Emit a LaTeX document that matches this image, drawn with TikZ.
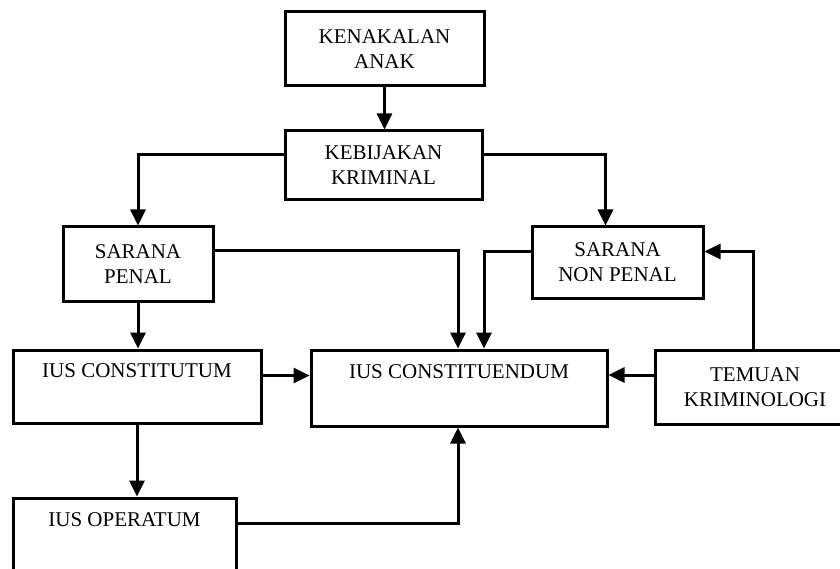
\documentclass[tikz,border=0pt]{standalone}
\usepackage{fontspec}
\setmainfont{Liberation Serif}
\usetikzlibrary{positioning, arrows.meta}

\tikzset{
	kotak/.style={draw, line width=3pt, inner sep=0pt, align=center,
		font=\fontsize{21}{25}\selectfont},
	panah/.style={line width=3pt, -{Triangle[length=16pt,width=15pt]}}
}

\begin{document}
\begin{tikzpicture}[x=1pt, y=-1pt]
					\useasboundingbox[fill=white] (0,0) rectangle (840,569);
					\node[kotak, minimum width=199pt, minimum height=74pt] (kenakalan) at (384.5,49) {KENAKALAN\\ANAK};
					\node[kotak, minimum width=197pt, minimum height=69pt] (kebijakan) at (383.5,165.5) {KEBIJAKAN\\KRIMINAL};
					\node[kotak, minimum width=150pt, minimum height=74pt] (penal) at (138,264) {SARANA\\PENAL};
					\node[kotak, minimum width=171pt, minimum height=71pt] (nonpenal) at (617.5,262.5) {SARANA\\NON PENAL};
					\node[kotak, minimum width=248pt, minimum height=73pt] (constitutum) at (137,386.5) {IUS CONSTITUTUM\\\strut};
					\node[kotak, minimum width=296pt, minimum height=76pt] (constituendum) at (459,388) {IUS CONSTITUENDUM\\\strut};
					\node[kotak, minimum width=200pt, minimum height=74pt] (temuan) at (755,387) {TEMUAN\\KRIMINOLOGI};
					\node[kotak, minimum width=223pt, minimum height=75pt] (operatum) at (124.5,535.5) {IUS OPERATUM\\\strut};

					\draw[panah] (kenakalan.south) -- (kenakalan.south |- kebijakan.north);
					\draw[panah] ([yshift=11pt]kebijakan.west) -| (penal.north);
					\draw[panah] ([yshift=11pt]kebijakan.east) -| ([xshift=-12pt]nonpenal.north);
					\draw[panah] ([yshift=13pt]penal.east) -| ([xshift=-1pt]constituendum.north);
					\draw[panah] ([yshift=11pt]nonpenal.west) -| ([xshift=25pt]constituendum.north);
					\draw[panah] ([xshift=-2pt]temuan.north) |- ([yshift=11pt]nonpenal.east);
					\draw[panah] (penal.south) -- (penal.south |- constitutum.north);
					\draw[panah] ([yshift=11pt]constitutum.east) -- ([yshift=11pt]constitutum.east -| constituendum.west);
					\draw[panah] ([yshift=12pt]temuan.west) -- ([yshift=12pt]temuan.west -| constituendum.east);
					\draw[panah] (constitutum.south) -- (constitutum.south |- operatum.north);
					\draw[panah] ([yshift=12pt]operatum.east) -| ([xshift=-1pt]constituendum.south);
\end{tikzpicture}
\end{document}
